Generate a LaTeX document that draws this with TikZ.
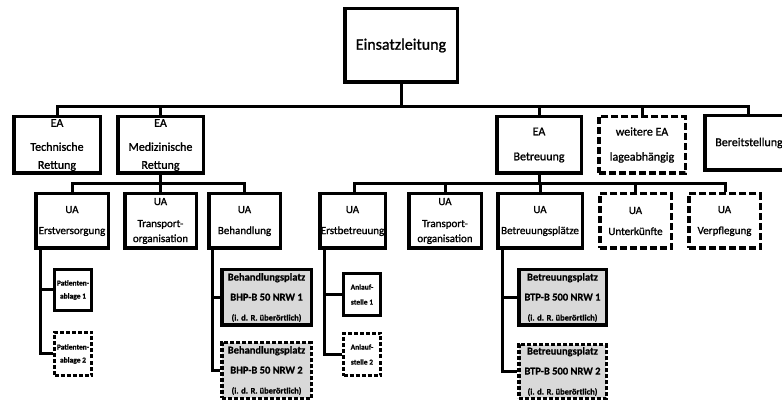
\documentclass[tikz,border=0pt]{standalone}
\usepackage{fontspec}
\setmainfont{Carlito}[UprightFeatures={FakeBold=1.2},BoldFeatures={FakeBold=0.6}]
\definecolor{boxgrey}{HTML}{D9D9D9}
\begin{document}
\begin{tikzpicture}[x=1pt,y=-1pt,
  box/.style={draw=black,line width=3.5pt,fill=white,inner sep=0pt,align=center,
    font=\fontsize{12}{18}\selectfont},
  uabox/.style={box,font=\fontsize{11}{15}\selectfont},
  smallbox/.style={draw=black,line width=3pt,fill=white,inner sep=0pt,align=center,
    font=\fontsize{7.5}{13}\selectfont\bfseries},
  greybox/.style={draw=black,line width=3.5pt,fill=boxgrey,inner sep=0pt,align=center,
    font=\fontsize{10.5}{20}\selectfont\bfseries},
  dbig/.style={dash pattern=on 7pt off 3pt},
  dsmall/.style={dash pattern=on 4pt off 2pt},
  conn/.style={draw=black,line width=3pt}]
\useasboundingbox (0,0) rectangle (782,403);

% top
\node[box,minimum width=112.5pt,minimum height=73.5pt,font=\fontsize{16}{20}\selectfont] (el) at (401,45.5) {Einsatzleitung};

% EA row
\node[box,minimum width=86.5pt,minimum height=56.5pt] (ea1) at (57,145) {EA\\[6pt]Technische\\Rettung};
\node[box,minimum width=85.5pt,minimum height=56.5pt] (ea2) at (160.5,145) {EA\\[6pt]Medizinische\\Rettung};
\node[box,minimum width=84.5pt,minimum height=56.5pt] (ea3) at (539,145) {EA\\[7pt]Betreuung};
\node[box,dbig,minimum width=86.5pt,minimum height=56.5pt] (ea4) at (642,145) {weitere EA\\[7pt]lageabhängig};
\node[box,minimum width=88.5pt,minimum height=54.5pt] (ea5) at (749,143) {Bereitstellung};

% UA row
\node[uabox,minimum width=72.5pt,minimum height=54.5pt] (ua1) at (72,221) {UA\\[6pt]Erstversorgung};
\node[uabox,minimum width=71.5pt,minimum height=54.5pt] (ua2) at (160.5,221) {UA\\[7pt]Transport-\\organisation};
\node[uabox,minimum width=71.5pt,minimum height=54.5pt] (ua3) at (244.5,221) {UA\\[6pt]Behandlung};
\node[uabox,minimum width=65.5pt,minimum height=54.5pt] (ua4) at (352.5,221) {UA\\[6pt]Erstbetreuung};
\node[uabox,minimum width=72.5pt,minimum height=54.5pt] (ua5) at (445,221) {UA\\[7pt]Transport-\\organisation};
\node[uabox,minimum width=84.5pt,minimum height=54.5pt] (ua6) at (540,221) {UA\\[6pt]Betreuungsplätze};
\node[uabox,dbig,minimum width=71.5pt,minimum height=54.5pt] (ua7) at (635.5,221) {UA\\[6pt]Unterkünfte};
\node[uabox,dbig,minimum width=71.5pt,minimum height=54.5pt] (ua8) at (724.5,221) {UA\\[6pt]Verpflegung};

% small boxes
\node[smallbox,minimum width=37pt,minimum height=41pt] (pa1) at (73,290) {Patienten-\\ablage 1};
\node[smallbox,dsmall,minimum width=37pt,minimum height=43pt] (pa2) at (73,354) {Patienten-\\ablage 2};
\node[smallbox,minimum width=37pt,minimum height=42pt,font=\fontsize{7.5}{15}\selectfont\bfseries] (as1) at (362,294.5) {Anlauf-\\stelle 1};
\node[smallbox,dsmall,minimum width=37pt,minimum height=42pt,font=\fontsize{7.5}{15}\selectfont\bfseries] (as2) at (362,354.5) {Anlauf-\\stelle 2};

\node[greybox,minimum width=89.5pt,minimum height=55.5pt] (bp1) at (266.5,297.5) {Behandlungsplatz\\BHP-B 50 NRW 1\\{\fontsize{8.5}{9}\selectfont (i. d. R. überörtlich)}};
\node[greybox,dsmall,minimum width=89.5pt,minimum height=55.5pt] (bp2) at (266.5,370.5) {Behandlungsplatz\\BHP-B 50 NRW 2\\{\fontsize{8.5}{9}\selectfont (i. d. R. überörtlich)}};
\node[greybox,minimum width=87.5pt,minimum height=55.5pt] (bt1) at (562.5,297.5) {Betreuungsplatz\\BTP-B 500 NRW 1\\{\fontsize{8.5}{9}\selectfont (i. d. R. überörtlich)}};
\node[greybox,dsmall,minimum width=87.5pt,minimum height=53.5pt] (bt2) at (562.5,371.5) {Betreuungsplatz\\BTP-B 500 NRW 2\\{\fontsize{8.5}{9}\selectfont (i. d. R. überörtlich)}};

% connectors: level 1
\coordinate (bus1) at (0,107);
\draw[conn] (el.south) -- (el.south |- bus1);
\draw[conn] (ea1.north) |- ([xshift=-1pt]ea5.north |- bus1) -- ([xshift=-1pt]ea5.north);
\draw[conn] (ea2.north) -- (ea2.north |- bus1);
\draw[conn] (ea3.north) -- (ea3.north |- bus1);
\draw[conn] (ea4.north) -- (ea4.north |- bus1);

% level 2
\coordinate (bus2) at (0,184);
\draw[conn] (ea2.south) -- (ua2.north);
\draw[conn] (ua1.north) |- (ua3.north |- bus2) -- (ua3.north);
\draw[conn] (ea3.south) -- (ea3.south |- bus2);
\draw[conn] ([xshift=2pt]ua4.north) |- ([xshift=1pt]ua8.north |- bus2) -- ([xshift=1pt]ua8.north);
\draw[conn] (ua5.north) -- (ua5.north |- bus2);
\draw[conn] (ua6.north) -- (ua6.north |- bus2);
\draw[conn] (ua7.north) -- (ua7.north |- bus2);

% level 3
\draw[conn] ([xshift=6pt]ua1.south west) |- (pa2.west);
\draw[conn] ([xshift=6pt]ua1.south west |- pa1.west) -- (pa1.west);
\draw[conn] ([xshift=5pt]ua3.south west) |- (bp2.west);
\draw[conn] ([xshift=5pt]ua3.south west |- bp1.west) -- (bp1.west);
\draw[conn] ([xshift=6pt]ua4.south west) |- (as2.west);
\draw[conn] ([xshift=6pt]ua4.south west |- as1.west) -- (as1.west);
\draw[conn] ([xshift=6pt]ua6.south west) |- (bt2.west);
\draw[conn] ([xshift=6pt]ua6.south west |- bt1.west) -- (bt1.west);
\end{tikzpicture}
\end{document}
